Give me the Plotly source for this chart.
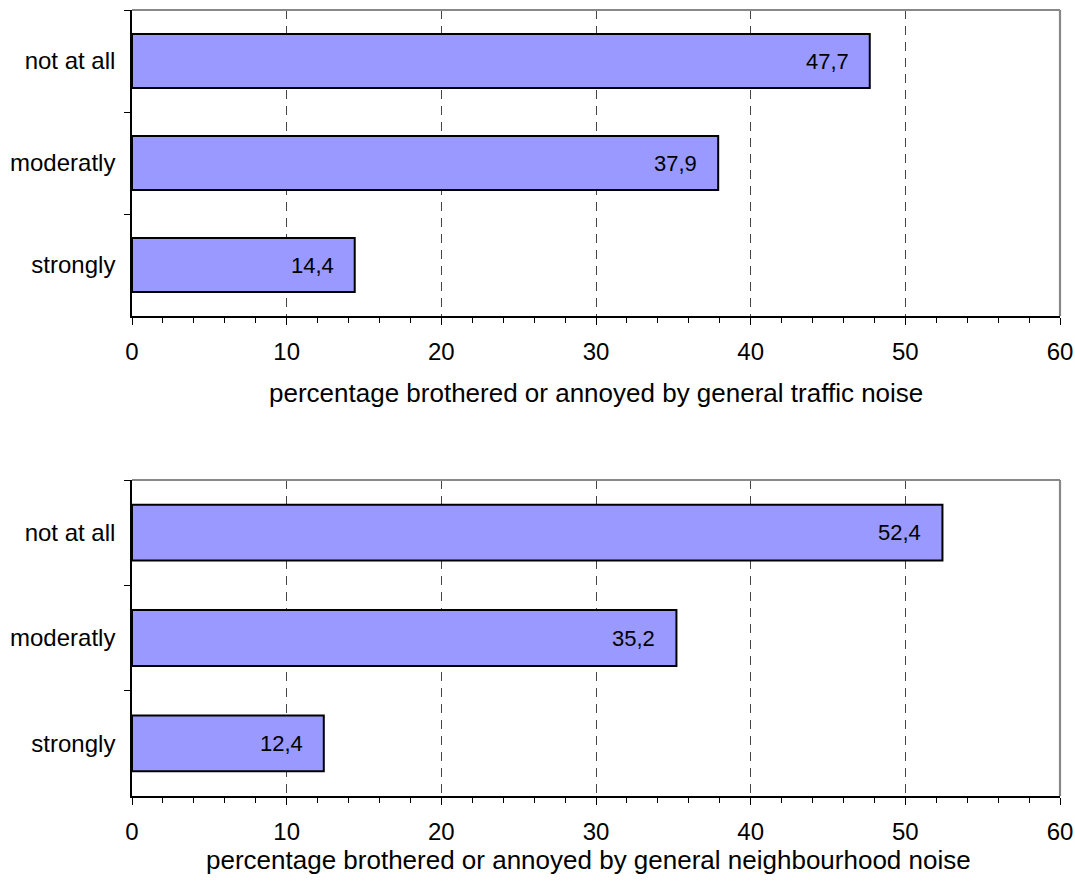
import plotly.graph_objects as go

# Annoyance levels shown on the category axis (top to bottom)
levels = ["not at all", "moderatly", "strongly"]

# Percentages for each panel
traffic_pct = [47.7, 37.9, 14.4]
neighbourhood_pct = [52.4, 35.2, 12.4]

# Axis titles
traffic_title = "percentage brothered or annoyed by general traffic noise"
neighbourhood_title = "percentage brothered or annoyed by general neighbourhood noise"

FONT = "Liberation Sans, Arial, sans-serif"
W, H = 1075, 887

fig = go.Figure()

# (values, title, x axis, y axis, plot top/bottom px, title centre x/y px)
panels = [
    (traffic_pct, traffic_title, "x", "y", (10, 316), (596, 393)),
    (neighbourhood_pct, neighbourhood_title, "x2", "y2", (480, 796), (588, 860)),
]

x_dom = [132 / W, 1060 / W]

for i, (vals, title, xa, ya, (ptop, pbot), (tx, ty)) in enumerate(panels):
    fig.add_trace(go.Bar(
        x=vals, y=levels, orientation="h",
        xaxis=xa, yaxis=ya,
        marker=dict(color="#9999FF", line=dict(color="black", width=2)),
        showlegend=False, hoverinfo="skip",
    ))
    # value labels placed just inside the bar end
    for v, lvl in zip(vals, levels):
        fig.add_annotation(
            x=v, y=lvl, xref=xa, yref=ya,
            text=f"{v:.1f}".replace(".", ","),
            showarrow=False, xanchor="right", yanchor="middle",
            xshift=-19, font=dict(family=FONT, size=22, color="black"),
        )
    # axis title below the tick labels
    fig.add_annotation(
        x=tx / W, y=1 - ty / H, xref="paper", yref="paper",
        text=title, showarrow=False, xanchor="center", yanchor="middle",
        font=dict(family=FONT, size=26, color="black"),
    )
    sfx = "" if i == 0 else "2"
    y_dom = [1 - pbot / H, 1 - ptop / H]
    fig.update_layout(**{
        f"xaxis{sfx}": dict(
            domain=x_dom, range=[0, 60], anchor=ya,
            tickmode="linear", tick0=0, dtick=10,
            ticks="outside", ticklen=7, tickwidth=1.2, tickcolor="black",
            minor=dict(tickmode="linear", tick0=0, dtick=2, ticks="outside",
                       ticklen=5, tickwidth=1.2, tickcolor="black", showgrid=False),
            showgrid=True, gridcolor="#444444", gridwidth=1, griddash="9px,7px",
            showline=True, linecolor="black", linewidth=1.6,
            zeroline=False, automargin=False,
            tickfont=dict(family=FONT, size=24, color="black"),
            ticklabelstandoff=6,
        ),
        f"yaxis{sfx}": dict(
            domain=y_dom, anchor=xa, autorange="reversed",
            type="category", tickson="boundaries",
            ticks="outside", ticklen=6, tickwidth=1.2, tickcolor="black",
            showgrid=False, showline=True, linecolor="black", linewidth=1.6,
            zeroline=False, automargin=False,
            tickfont=dict(family=FONT, size=24, color="black"),
            ticklabelstandoff=10,
        ),
    })
    # grey frame along the top and right edges of the plot area
    fig.add_shape(type="line", xref=f"{xa} domain", yref=f"{ya} domain",
                  x0=0, x1=1, y0=1, y1=1, line=dict(color="#888888", width=2.2))
    fig.add_shape(type="line", xref=f"{xa} domain", yref=f"{ya} domain",
                  x0=1, x1=1, y0=0, y1=1, line=dict(color="#888888", width=2.2))

fig.update_layout(
    width=W, height=H,
    margin=dict(l=0, r=0, t=0, b=0),
    plot_bgcolor="white", paper_bgcolor="white",
    bargap=0.47,
    font=dict(family=FONT, size=24, color="black"),
)

fig.write_html("out.html")
